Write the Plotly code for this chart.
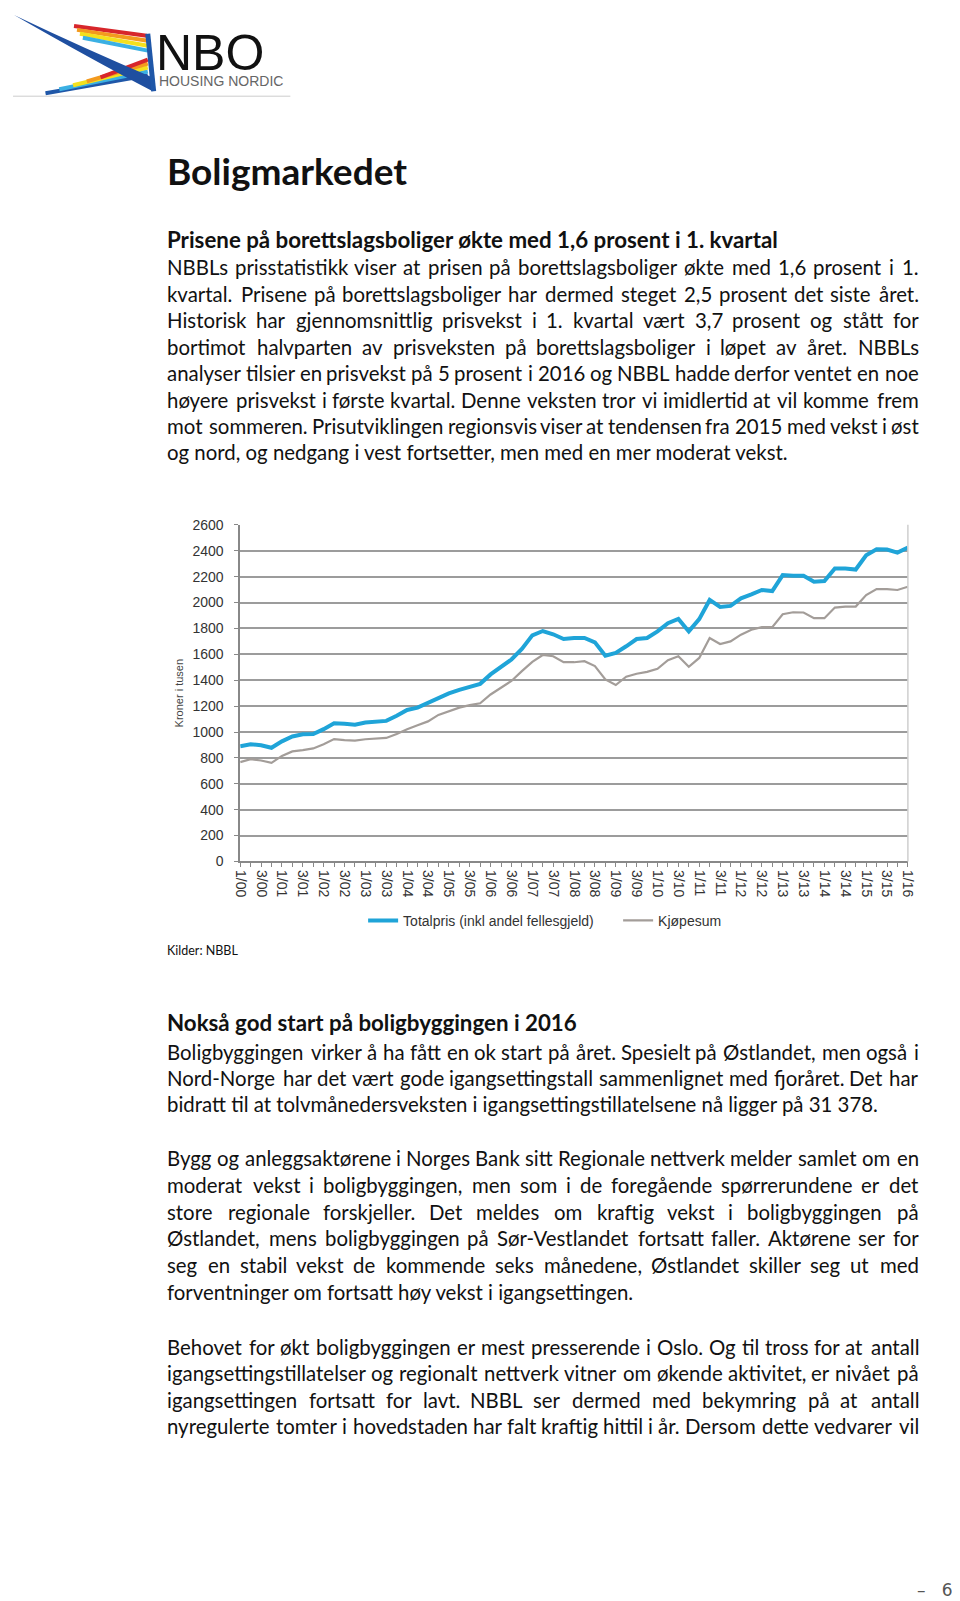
import plotly.graph_objects as go

W, H = 960, 1601
OFF = 8  # page body margin in the browser

# quarterly labels 1/00 .. 1/16
quarters = []
for yr in range(0, 17):
    for q in range(1, 5):
        quarters.append(f"{q}/{yr:02d}")
quarters = quarters[:65]
xpos = list(range(len(quarters)))

# kroner i tusen
totalpris = [890, 905, 898, 878, 928, 965, 982, 985, 1022, 1068,
             1063, 1056, 1073, 1076, 1086, 1125, 1170, 1188, 1226, 1265,
             1298, 1326, 1350, 1372, 1445, 1504, 1560, 1642, 1747, 1780,
             1755, 1718, 1726, 1726, 1693, 1590, 1611, 1662, 1718, 1726,
             1777, 1841, 1874, 1777, 1872, 2020, 1966, 1974, 2033, 2063,
             2097, 2089, 2212, 2207, 2207, 2161, 2166, 2263, 2263, 2255,
             2365, 2411, 2409, 2386, 2424]
kjopesum = [767, 790, 780, 762, 815, 850, 860, 873, 905, 945,
            938, 933, 944, 950, 954, 985, 1022, 1052, 1082, 1132,
            1162, 1188, 1208, 1222, 1290, 1342, 1394, 1470, 1542, 1595,
            1585, 1539, 1539, 1547, 1509, 1406, 1363, 1427, 1450, 1465,
            1488, 1555, 1585, 1504, 1572, 1726, 1680, 1700, 1752, 1790,
            1810, 1810, 1910, 1925, 1923, 1879, 1879, 1961, 1969, 1969,
            2058, 2104, 2104, 2097, 2122]

avsnitt1 = [
    "NBBLs prisstatistikk viser at prisen på borettslagsboliger økte med 1,6 prosent i 1.",
    "kvartal. Prisene på borettslagsboliger har dermed steget 2,5 prosent det siste året.",
    "Historisk har gjennomsnittlig prisvekst i 1. kvartal vært 3,7 prosent og stått for",
    "bortimot halvparten av prisveksten på borettslagsboliger i løpet av året. NBBLs",
    "analyser tilsier en prisvekst på 5 prosent i 2016 og NBBL hadde derfor ventet en noe",
    "høyere prisvekst i første kvartal. Denne veksten tror vi imidlertid at vil komme frem",
    "mot sommeren. Prisutviklingen regionsvis viser at tendensen fra 2015 med vekst i øst",
    "og nord, og nedgang i vest fortsetter, men med en mer moderat vekst.",
]
avsnitt2 = [
    "Boligbyggingen virker å ha fått en ok start på året. Spesielt på Østlandet, men også i",
    "Nord-Norge har det vært gode igangsettingstall sammenlignet med fjoråret. Det har",
    "bidratt til at tolvmånedersveksten i igangsettingstillatelsene nå ligger på 31 378.",
]
avsnitt3 = [
    "Bygg og anleggsaktørene i Norges Bank sitt Regionale nettverk melder samlet om en",
    "moderat vekst i boligbyggingen, men som i de foregående spørrerundene er det",
    "store regionale forskjeller. Det meldes om kraftig vekst i boligbyggingen på",
    "Østlandet, mens boligbyggingen på Sør-Vestlandet fortsatt faller. Aktørene ser for",
    "seg en stabil vekst de kommende seks månedene, Østlandet skiller seg ut med",
    "forventninger om fortsatt høy vekst i igangsettingen.",
]
avsnitt4 = [
    "Behovet for økt boligbyggingen er mest presserende i Oslo. Og til tross for at antall",
    "igangsettingstillatelser og regionalt nettverk vitner om økende aktivitet, er nivået på",
    "igangsettingen fortsatt for lavt. NBBL ser dermed med bekymring på at antall",
    "nyregulerte tomter i hovedstaden har falt kraftig hittil i år. Dersom dette vedvarer vil",
]


def px(x):
    return (x - OFF) / W


def py(y):
    return 1 - (y - OFF) / H


fig = go.Figure()
fig.add_trace(go.Scatter(x=xpos, y=totalpris, mode="lines", name="Totalpris (inkl andel fellesgjeld)",
                         line=dict(color="#1fa4d8", width=4)))
fig.add_trace(go.Scatter(x=xpos, y=kjopesum, mode="lines", name="Kjøpesum",
                         line=dict(color="#a39d99", width=2.2)))

ann = []
BODY = "Lato"
LEFT, RIGHT = 163, 925

# rough glyph widths of Lato regular (em), used only to spread words for justified lines
GLYPH = dict(zip("abcdefghijklmnopqrstuvwxyzæøå",
                 [.49, .55, .45, .55, .51, .31, .50, .55, .23, .23, .49, .23, .83, .55, .55, .55, .55,
                  .35, .41, .34, .55, .50, .76, .48, .50, .44, .80, .55, .49]))
GLYPH.update(zip("ABCDEFGHIJKLMNOPQRSTUVWXYZØÅÆ",
                 [.67, .63, .66, .74, .55, .53, .72, .75, .28, .38, .64, .49, .90, .75, .79, .59, .79,
                  .61, .51, .58, .72, .67, 1.0, .64, .61, .59, .79, .67, .92]))
GLYPH.update({c: .58 for c in "0123456789"})
GLYPH.update({" ": .193, ".": .22, ",": .22, "-": .36})


def em_width(s):
    return sum(GLYPH.get(c, .5) for c in s)


# measured: this line at 18.5px in Lato is ~563px wide
CAL = 563 / (em_width("og nord, og nedgang i vest fortsetter, men med en mer moderat vekst.") * 18.5)


def txt(x, y, s, size, bold=False, color="#111111", anchor="left", font=BODY):
    pad = -3 if anchor == "left" else (3 if anchor == "right" else 0)
    ann.append(dict(x=px(x + pad), y=py(y), xref="paper", yref="paper",
                    text=("<b>%s</b>" % s) if bold else s,
                    showarrow=False, xanchor=anchor, yanchor="middle",
                    font=dict(family=font, size=size, color=color)))


def justify(line, y, size):
    words = line.split(" ")
    ww = [em_width(w) * CAL * size for w in words]
    gap = (RIGHT - LEFT - sum(ww)) / (len(words) - 1)
    cur = LEFT
    for i, (w, wpx) in enumerate(zip(words, ww)):
        if i == 0:
            txt(LEFT, y, w, size)
        elif i == len(words) - 1:
            txt(RIGHT, y, w, size, anchor="right")
        else:
            txt(cur + wpx / 2, y, w, size, anchor="center")
        cur += wpx + gap


def avsnitt(lines, y0, step, size, last_justified=False):
    for i, line in enumerate(lines):
        y = y0 + i * step
        if i == len(lines) - 1 and not last_justified:
            txt(LEFT, y, line, size)
        else:
            justify(line, y, size)


BODY_SIZE = 20.4
txt(LEFT, 164, "Boligmarkedet", 37, bold=True)
txt(LEFT, 234, "Prisene på borettslagsboliger økte med 1,6 prosent i 1. kvartal", 22.3, bold=True)
avsnitt(avsnitt1, 262, 26.7, BODY_SIZE)

txt(LEFT, 952, "Kilder: NBBL", 12.5)
txt(LEFT, 1025, "Nokså god start på boligbyggingen i 2016", 22.3, bold=True)
avsnitt(avsnitt2, 1054, 26.6, BODY_SIZE)
avsnitt(avsnitt3, 1162, 26.9, BODY_SIZE)
avsnitt(avsnitt4, 1352, 26.9, BODY_SIZE, last_justified=True)

txt(960, 1598, "–   6", 17, color="#555555", anchor="right", font="DejaVu Sans")

# y axis title
ann.append(dict(x=px(174), y=py(692), xref="paper", yref="paper", text="Kroner i tusen", showarrow=False,
                textangle=-90, xanchor="center", yanchor="middle",
                font=dict(family="Liberation Sans", size=11, color="#444444")))

# logo text
txt(151, 45, "NBO", 50, color="#111111", font="Liberation Sans")
txt(154, 74, "HOUSING NORDIC", 14, color="#666666", font="Liberation Sans")

shapes = []
logo_lines = [
    ((67, 18), (141, 28), "#d7262b"),
    ((70, 22), (142, 33), "#f39a1e"),
    ((73, 26), (142, 38), "#f4e01d"),
    ((76, 30), (142, 43), "#3bb0e3"),
    ((38, 86), (142, 68), "#1f57a8"),
    ((52, 82), (142, 64), "#3bb0e3"),
    ((66, 78), (142, 60), "#f4e01d"),
    ((80, 74), (142, 56), "#f39a1e"),
    ((94, 70), (142, 52), "#d7262b"),
]
for (x0, y0), (x1, y1), c in logo_lines:
    shapes.append(dict(type="line", xref="paper", yref="paper", x0=px(x0), y0=py(y0), x1=px(x1), y1=py(y1),
                       line=dict(color=c, width=4)))
shapes.append(dict(type="path", xref="paper", yref="paper",
                   path="M %f %f Q %f %f %f %f L %f %f Q %f %f %f %f Z" % (
                       px(6), py(7), px(80), py(42), px(147), py(70), px(147), py(84),
                       px(85), py(52), px(6), py(7)),
                   fillcolor="#1f4fa0", line=dict(width=0)))
shapes.append(dict(type="line", xref="paper", yref="paper", x0=px(142), y0=py(26), x1=px(148), y1=py(84),
                   line=dict(color="#1f57a8", width=5)))
shapes.append(dict(type="line", xref="paper", yref="paper", x0=px(5), y0=py(89), x1=px(287), y1=py(89),
                   line=dict(color="#cccccc", width=1)))
# plot border on the right
shapes.append(dict(type="line", xref="paper", yref="paper", x0=px(915), y0=py(522), x1=px(915), y1=py(862),
                   line=dict(color="#cfcfcf", width=1.5)))

fig.update_layout(
    width=W, height=H,
    margin=dict(l=0, r=0, t=0, b=0),
    paper_bgcolor="white", plot_bgcolor="white",
    annotations=ann, shapes=shapes,
    showlegend=True,
    legend=dict(orientation="h", x=px(361), y=py(922), xanchor="left", yanchor="middle",
                font=dict(family="Liberation Sans", size=14, color="#333333"), itemwidth=30,
                entrywidth=210, traceorder="normal"),
    xaxis=dict(domain=[px(236), px(915)], range=[0, 64], tickmode="array",
               tickvals=xpos[::2], ticktext=quarters[::2], tickangle=90,
               ticks="outside", ticklen=4, tickcolor="#888888",
               minor=dict(dtick=1, ticks="outside", ticklen=4, tickcolor="#888888"),
               showline=True, linecolor="#888888", linewidth=1.5, showgrid=False, zeroline=False,
               tickfont=dict(family="Liberation Sans", size=14, color="#333333")),
    yaxis=dict(domain=[py(862), py(522)], range=[0, 2600], dtick=200, tick0=0,
               ticks="outside", ticklen=4, tickcolor="#888888", ticklabelstandoff=8,
               showline=True, linecolor="#888888", linewidth=1.5,
               showgrid=True, gridcolor="#9c9c9c", gridwidth=1.5, zeroline=False,
               tickfont=dict(family="Liberation Sans", size=14, color="#333333")),
)

fig.write_html("out.html")
